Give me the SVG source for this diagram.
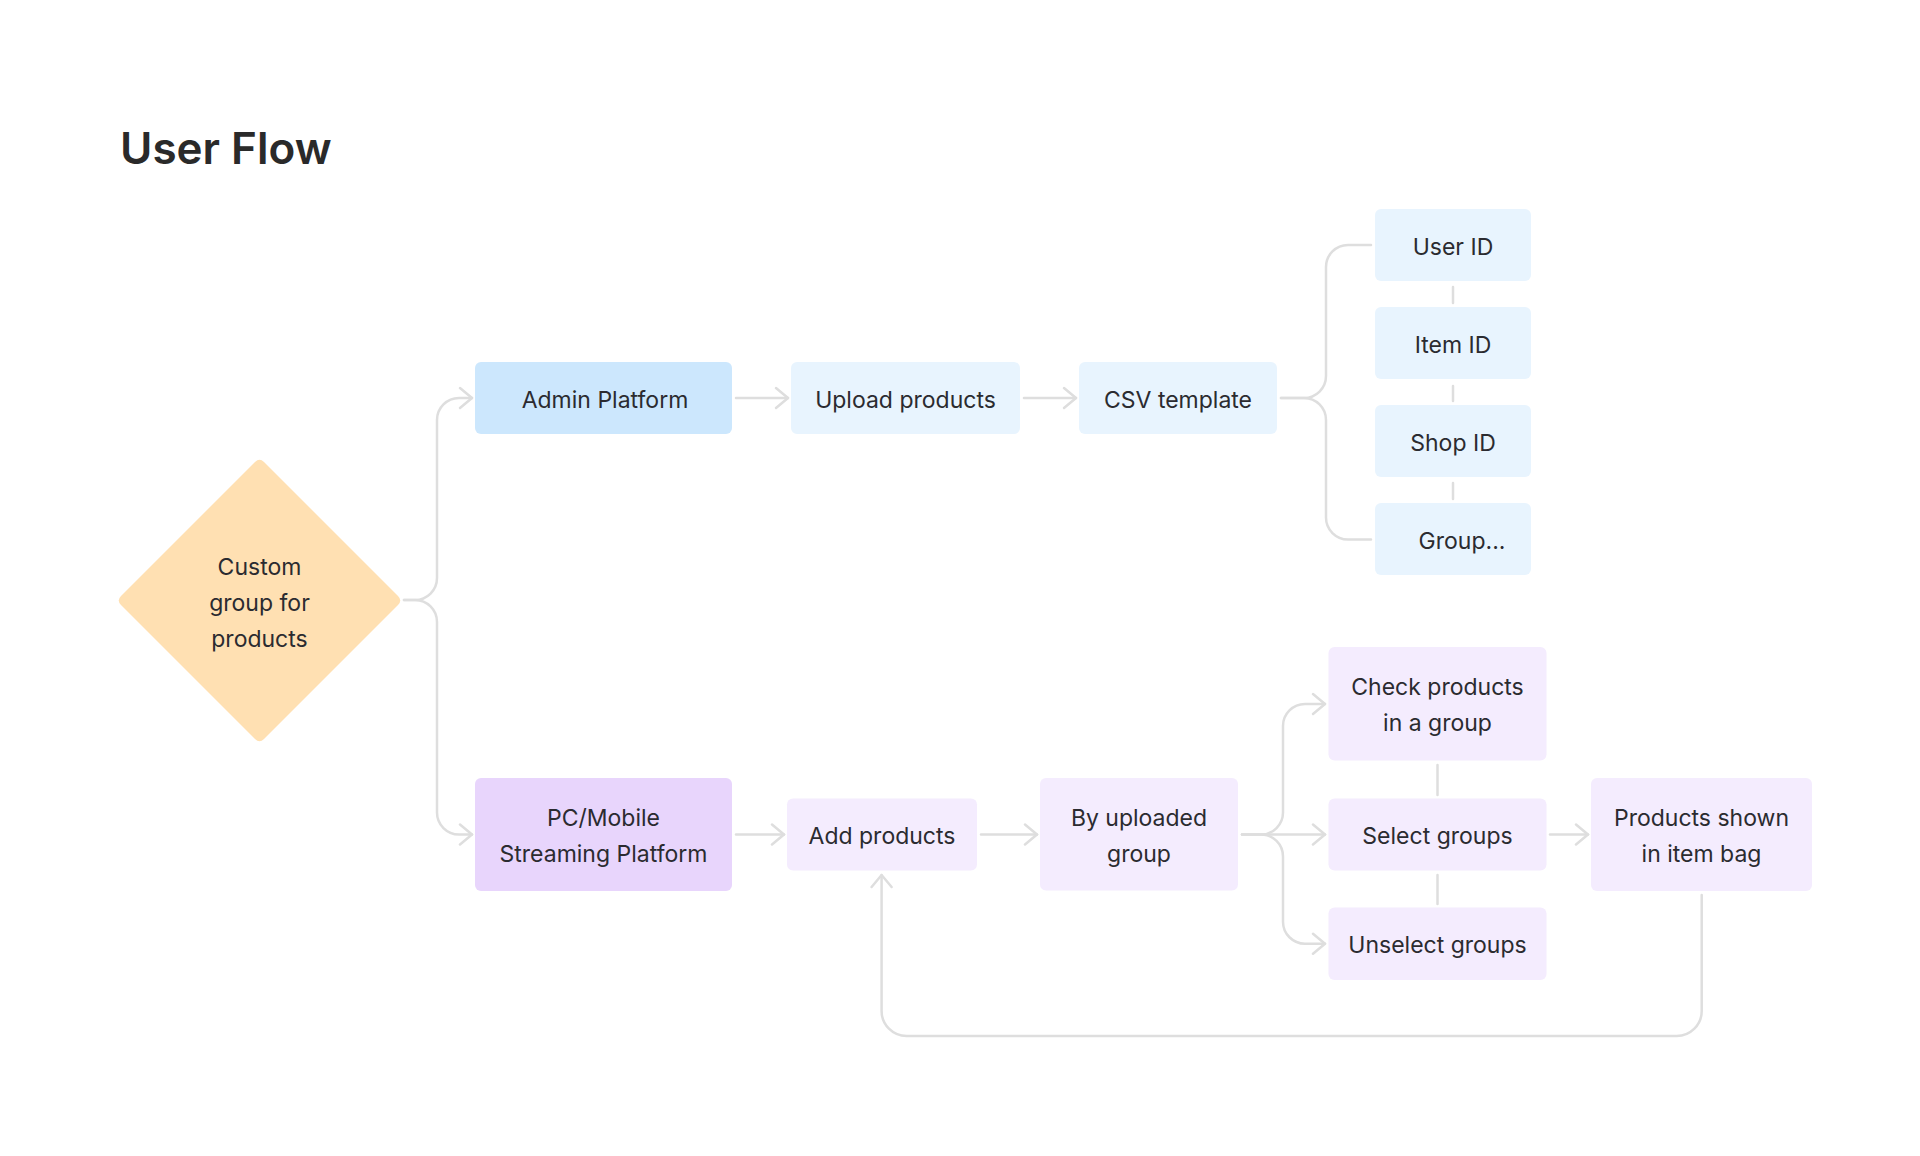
<svg xmlns="http://www.w3.org/2000/svg" width="1920" height="1156" viewBox="0 0 1920 1156">
<defs>
<style>
.t{font-family:Inter,"Noto Sans","Liberation Sans",sans-serif;font-size:23px;fill:#2b2b30;text-anchor:middle}
.title{font-family:Inter,"Noto Sans","Liberation Sans",sans-serif;font-size:44px;font-weight:600;fill:#2a2a2a}
.c{fill:none;stroke:#dedede;stroke-width:2.5;stroke-linecap:round;stroke-linejoin:round}
.a{marker-end:url(#arr)}
.blue1{fill:#cce7fd}
.blue2{fill:#e8f4fe}
.pur1{fill:#e8d5fc}
.pur2{fill:#f4ecfe}
</style>
<marker id="arr" markerUnits="userSpaceOnUse" viewBox="0 0 16 24" markerWidth="16" markerHeight="24" refX="14" refY="12" orient="auto">
<path d="M2,2 L14,12 L2,22" fill="none" stroke="#dedede" stroke-width="2.5" stroke-linecap="round" stroke-linejoin="round"/>
</marker>
</defs>
<rect width="1920" height="1156" fill="#ffffff"/>
<text class="title" x="120" y="164">User Flow</text>

<g id="connectors">
<path class="c a" d="M404,600 H415 A22,22 0 0 0 437,578 V420 A22,22 0 0 1 459,398 H472"/>
<path class="c a" d="M404,600 H415 A22,22 0 0 1 437,622 V812.5 A22,22 0 0 0 459,834.5 H472"/>
<path class="c a" d="M736,398 H788"/>
<path class="c a" d="M1024,398 H1076"/>
<path class="c" d="M1281,398 H1304 A22,22 0 0 0 1326,376 V267 A22,22 0 0 1 1348,245 H1371"/>
<path class="c" d="M1281,398 H1304 A22,22 0 0 1 1326,420 V517.5 A22,22 0 0 0 1348,539.5 H1371"/>
<path class="c" d="M1453,287 V303"/>
<path class="c" d="M1453,386 V401"/>
<path class="c" d="M1453,483 V499"/>
<path class="c a" d="M736,834.5 H784"/>
<path class="c a" d="M981,834.5 H1037"/>
<path class="c a" d="M1242,834.5 H1261 A22,22 0 0 0 1283,812.5 V726 A22,22 0 0 1 1305,704 H1325"/>
<path class="c a" d="M1242,834.5 H1325"/>
<path class="c a" d="M1242,834.5 H1261 A22,22 0 0 1 1283,856.5 V921.7 A22,22 0 0 0 1305,943.7 H1325"/>
<path class="c" d="M1437.5,765 V795"/>
<path class="c" d="M1437.5,875 V904"/>
<path class="c a" d="M1550,834.5 H1588"/>
<path class="c a" d="M1701.7,895 V1011 A25,25 0 0 1 1676.7,1036 H906.6 A25,25 0 0 1 881.6,1011 V875"/>
</g>

<g id="node-custom">
<path d="M255,462 Q259.5,457.5 264,462 L398,596 Q402.5,600.5 398,605 L264,739 Q259.5,743.5 255,739 L121,605 Q116.5,600.5 121,596 Z" fill="#ffe0b2"/>
<text class="t" x="259.5" y="575">Custom</text>
<text class="t" x="259.5" y="611">group for</text>
<text class="t" x="259.5" y="647">products</text>
</g>

<g id="node-admin">
<rect class="blue1" x="475" y="362" width="257" height="72" rx="6"/>
<text class="t" x="605" y="408">Admin Platform</text>
</g>
<g id="node-upload">
<rect class="blue2" x="791" y="362" width="229" height="72" rx="6"/>
<text class="t" x="905.5" y="408">Upload products</text>
</g>
<g id="node-csv">
<rect class="blue2" x="1079" y="362" width="198" height="72" rx="6"/>
<text class="t" x="1178" y="408">CSV template</text>
</g>
<g id="node-userid">
<rect class="blue2" x="1375" y="209" width="156" height="72" rx="6"/>
<text class="t" x="1453" y="255">User ID</text>
</g>
<g id="node-itemid">
<rect class="blue2" x="1375" y="307" width="156" height="72" rx="6"/>
<text class="t" x="1453" y="353">Item ID</text>
</g>
<g id="node-shopid">
<rect class="blue2" x="1375" y="405" width="156" height="72" rx="6"/>
<text class="t" x="1453" y="451">Shop ID</text>
</g>
<g id="node-group">
<rect class="blue2" x="1375" y="503" width="156" height="72" rx="6"/>
<text class="t" x="1462" y="549">Group...</text>
</g>

<g id="node-pc">
<rect class="pur1" x="475" y="778" width="257" height="113" rx="6"/>
<text class="t" x="603.5" y="826">PC/Mobile</text>
<text class="t" x="603.5" y="862">Streaming Platform</text>
</g>
<g id="node-add">
<rect class="pur2" x="787" y="798.5" width="190" height="72" rx="6"/>
<text class="t" x="882" y="844">Add products</text>
</g>
<g id="node-byuploaded">
<rect class="pur2" x="1040" y="778" width="198" height="112.5" rx="6"/>
<text class="t" x="1139" y="826">By uploaded</text>
<text class="t" x="1139" y="862">group</text>
</g>
<g id="node-check">
<rect class="pur2" x="1328.5" y="647" width="218" height="113.5" rx="6"/>
<text class="t" x="1437.5" y="695">Check products</text>
<text class="t" x="1437.5" y="731">in a group</text>
</g>
<g id="node-select">
<rect class="pur2" x="1328.5" y="798.5" width="218" height="72" rx="6"/>
<text class="t" x="1437.5" y="844">Select groups</text>
</g>
<g id="node-unselect">
<rect class="pur2" x="1328.5" y="907.5" width="218" height="72.5" rx="6"/>
<text class="t" x="1437.5" y="953">Unselect groups</text>
</g>
<g id="node-shown">
<rect class="pur2" x="1591" y="778" width="221" height="113" rx="6"/>
<text class="t" x="1701.5" y="826">Products shown</text>
<text class="t" x="1701.5" y="862">in item bag</text>
</g>
</svg>
